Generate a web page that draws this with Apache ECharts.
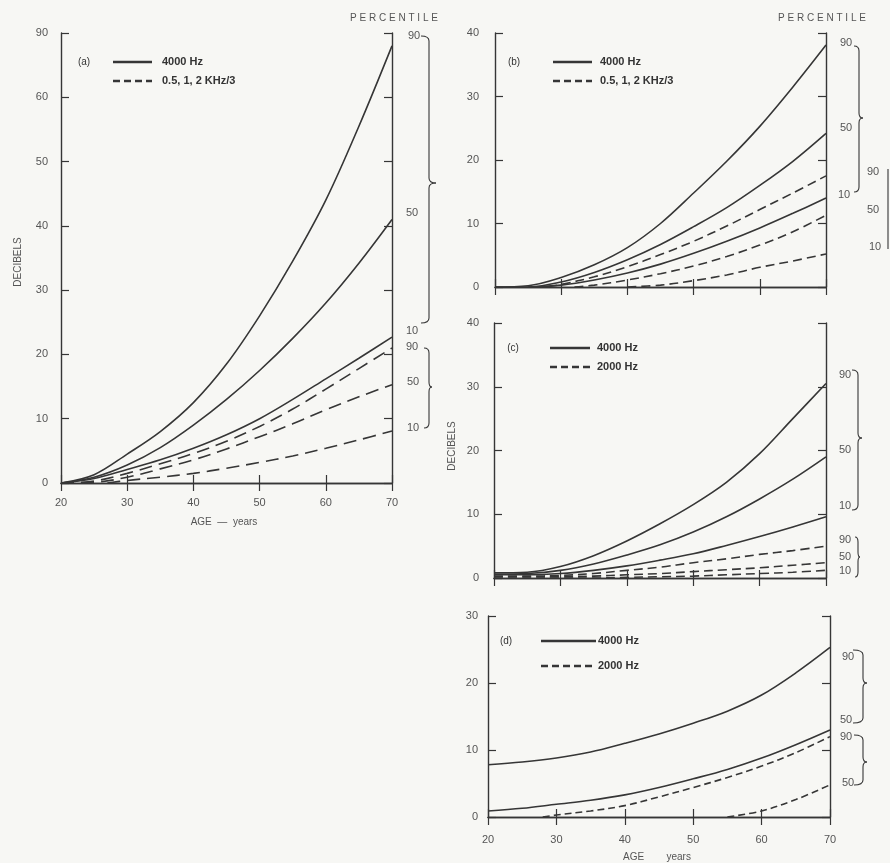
<!DOCTYPE html>
<html>
<head>
<meta charset="utf-8">
<script src="https://cdn.jsdelivr.net/npm/echarts@6/dist/echarts.min.js"></script>
<style>
html,body{margin:0;padding:0;background:#f7f7f4;}
#chart{width:890px;height:863px;}
</style>
</head>
<body>
<div id="chart"></div>
<script>
// ---------- DATA ----------
const ages = [20, 25, 30, 35, 40, 45, 50, 55, 60, 65, 70];
const xTicks = [20, 30, 40, 50, 60, 70];

// Panel (a): 4000 Hz (solid) and 0.5,1,2 KHz/3 (dashed), percentiles 90/50/10
const a_solid90 = [0, 1.3, 4.5, 8, 12.5, 18.5, 26, 34.5, 44, 55.5, 68];
const a_solid50 = [0, 0.9, 2.8, 5.5, 9, 13, 17.5, 22.5, 28, 34.2, 41];
const a_solid10 = [0, 0.7, 2.1, 3.6, 5.4, 7.5, 10, 13, 16.2, 19.4, 22.7];
const a_dash90 = [0, 0.3, 1.5, 3, 4.6, 6.5, 8.8, 11.5, 14.6, 17.8, 21];
const a_dash50 = [0, 0.1, 0.9, 2.2, 3.6, 5.3, 7.2, 9.2, 11.4, 13.4, 15.3];
const a_dash10_ages = [27, 30, 35, 40, 45, 50, 55, 60, 65, 70];
const a_dash10 = [0, 0.4, 0.9, 1.5, 2.3, 3.2, 4.2, 5.4, 6.7, 8.1];
const a_yLabels = {0:'0',10:'10',20:'20',30:'30',40:'40',50:'50',60:'60',70:'90'};

// Panel (b)
const b_solid90 = [0, 0.2, 1.5, 3.5, 6.2, 10, 14.8, 19.8, 25.3, 31.5, 38.1];
const b_solid50 = [0, 0, 0.8, 2.3, 4.3, 6.7, 9.5, 12.5, 16, 19.8, 24.2];
const b_solid10_ages = [25, 30, 35, 40, 45, 50, 55, 60, 65, 70];
const b_solid10 = [0, 0.3, 1.1, 2.2, 3.6, 5.3, 7.2, 9.3, 11.6, 14];
const b_dash90_ages = [28, 30, 35, 40, 45, 50, 55, 60, 65, 70];
const b_dash90 = [0, 0.4, 1.6, 3.2, 5.1, 7.2, 9.6, 12.2, 14.8, 17.5];
const b_dash50_ages = [32, 35, 40, 45, 50, 55, 60, 65, 70];
const b_dash50 = [0, 0.3, 1.1, 2.1, 3.3, 4.8, 6.6, 8.7, 11.3];
const b_dash10_ages = [40, 45, 50, 55, 60, 65, 70];
const b_dash10 = [0, 0.3, 1.0, 1.9, 3.1, 4.1, 5.2];

// Panel (c): 4000 Hz (solid), 2000 Hz (dashed)
const c_solid90 = [0.8, 0.9, 1.8, 3.5, 5.8, 8.5, 11.5, 15, 19.5, 25, 30.5];
const c_solid50 = [0.6, 0.7, 1.2, 2.2, 3.6, 5.2, 7.2, 9.6, 12.4, 15.5, 19];
const c_solid10 = [0.5, 0.5, 0.7, 1.2, 1.9, 2.8, 3.8, 5.1, 6.5, 8, 9.6];
const c_dash90 = [0.3, 0.3, 0.4, 0.7, 1.2, 1.7, 2.4, 3, 3.7, 4.3, 5];
const c_dash50 = [0.2, 0.2, 0.2, 0.3, 0.5, 0.7, 1.0, 1.3, 1.6, 2, 2.4];
const c_dash10 = [0, 0, 0, 0, 0.1, 0.2, 0.3, 0.5, 0.7, 0.9, 1.2];

// Panel (d): 4000 Hz (solid), 2000 Hz (dashed), percentiles 90/50
const d_solid90 = [7.8, 8.2, 8.8, 9.7, 11, 12.4, 14, 15.8, 18.2, 21.5, 25.3];
const d_solid50 = [0.9, 1.3, 1.9, 2.5, 3.3, 4.4, 5.7, 7.1, 8.8, 10.8, 13];
const d_dash90_ages = [28, 30, 35, 40, 45, 50, 55, 60, 65, 70];
const d_dash90 = [0, 0.3, 0.9, 1.7, 3, 4.4, 5.9, 7.6, 9.6, 12];
const d_dash50_ages = [55, 60, 65, 70];
const d_dash50 = [0, 0.9, 2.6, 4.8];

// ---------- STYLE ----------
const INK = '#363636';
const TXT = '#555';
const FONT = 'Liberation Sans';

function pairs(xs, ys){ return xs.map((x,i)=>[x, ys[i]]); }

const grids = [
  {left:61, right:498, top:33, bottom:380},   // a
  {left:495, right:64, top:33, bottom:576},   // b
  {left:494, right:64, top:323, bottom:285},  // c
  {left:488, right:60, top:616, bottom:46}    // d
];
const yMax = [70, 40, 40, 30];
const showX = [true, false, false, true];
const yMargins = [13, 16, 15, 10];
const xMargins = [14, 14, 14, 17];

const xAxes = [], yAxes = [];
grids.forEach((g, i) => {
  const axisLine = {show:true, lineStyle:{color:INK, width:1.4}};
  xAxes.push({
    type:'value', gridIndex:i, min:20, max:70, interval:10, position:'bottom',
    axisLine, splitLine:{show:false},
    axisTick:{show:true, inside:true, length:8, lineStyle:{color:INK, width:1.2}},
    axisLabel:{show:showX[i], color:TXT, fontFamily:FONT, fontSize:11, margin:xMargins[i]}
  });
  xAxes.push({
    type:'value', gridIndex:i, min:20, max:70, interval:10, position:'top',
    axisLine, splitLine:{show:false},
    axisTick:{show:true, inside:true, length:8, lineStyle:{color:INK, width:1.2}},
    axisLabel:{show:false}
  });
  yAxes.push({
    type:'value', gridIndex:i, min:0, max:yMax[i], interval:10, position:'left',
    axisLine, splitLine:{show:false},
    axisTick:{show:true, inside:true, length:8, lineStyle:{color:INK, width:1.2}},
    axisLabel:{color:TXT, fontFamily:FONT, fontSize:11, margin:yMargins[i],
      formatter: i === 0 ? (v => a_yLabels[v]) : (v => String(v))}
  });
  yAxes.push({
    type:'value', gridIndex:i, min:0, max:yMax[i], interval:10, position:'right',
    axisLine, splitLine:{show:false},
    axisTick:{show:true, inside:true, length:8, lineStyle:{color:INK, width:1.2}},
    axisLabel:{show:false}
  });
});

function ser(gi, data, dashed, dash){
  return {
    type:'line', xAxisIndex:gi*2, yAxisIndex:gi*2, data:data,
    smooth:0.35, showSymbol:false, symbol:'none', clip:true, silent:true,
    lineStyle:{color:INK, width:1.6, type: dashed ? dash : 'solid'}
  };
}
const dA = [13, 7], dB = [9, 5];

const series = [
  ser(0, pairs(ages, a_solid90), false),
  ser(0, pairs(ages, a_solid50), false),
  ser(0, pairs(ages, a_solid10), false),
  ser(0, pairs(ages, a_dash90), true, dA),
  ser(0, pairs(ages, a_dash50), true, dA),
  ser(0, pairs(a_dash10_ages, a_dash10), true, dA),

  ser(1, pairs(ages, b_solid90), false),
  ser(1, pairs(ages, b_solid50), false),
  ser(1, pairs(b_solid10_ages, b_solid10), false),
  ser(1, pairs(b_dash90_ages, b_dash90), true, dB),
  ser(1, pairs(b_dash50_ages, b_dash50), true, dB),
  ser(1, pairs(b_dash10_ages, b_dash10), true, dB),

  ser(2, pairs(ages, c_solid90), false),
  ser(2, pairs(ages, c_solid50), false),
  ser(2, pairs(ages, c_solid10), false),
  ser(2, pairs(ages, c_dash90), true, dB),
  ser(2, pairs(ages, c_dash50), true, dB),
  ser(2, pairs(ages, c_dash10), true, dB),

  ser(3, pairs(ages, d_solid90), false),
  ser(3, pairs(ages, d_solid50), false),
  ser(3, pairs(d_dash90_ages, d_dash90), true, [7, 4]),
  ser(3, pairs(d_dash50_ages, d_dash50), true, [7, 4])
];

// ---------- ANNOTATIONS ----------
const G = [];
function txt(t, x, y, opts){
  opts = opts || {};
  G.push({type:'text', x:x, y:y, rotation:opts.rot||0, silent:true,
    style:{text:t, fill:opts.fill||TXT, font:(opts.w||'normal')+' '+(opts.size||11)+'px '+FONT,
      align:opts.align||'center', verticalAlign:'middle'}});
}
function seg(x1,y1,x2,y2,dash,w){
  G.push({type:'line', silent:true, shape:{x1,y1,x2,y2},
    style:{stroke:INK, lineWidth:w||1.3, lineDash:dash||null}});
}
function bez(x1,y1,cx,cy,x2,y2){
  G.push({type:'bezierCurve', silent:true, shape:{x1,y1,x2,y2,cpx1:cx,cpy1:cy},
    style:{stroke:INK, lineWidth:1.1, fill:null}});
}
function brace(x0, y1, ym, y2, xv, xt){
  const r = 5;
  bez(x0, y1, xv, y1, xv, y1 + r);
  seg(xv, y1 + r, xv, ym - r, null, 1.1);
  bez(xv, ym - r, xv, ym, xt, ym);
  bez(xt, ym, xv, ym, xv, ym + r);
  seg(xv, ym + r, xv, y2 - r, null, 1.1);
  bez(xv, y2 - r, xv, y2, x0, y2);
}
function legend(lbl, lx, x1, x2, tx, y1, y2, t1, t2, dash){
  txt(lbl, lx, y1, {fill:'#333', size:10});
  seg(x1, y1, x2, y1, null, 2.4);
  seg(x1, y2, x2, y2, dash, 2.4);
  txt(t1, tx, y1, {align:'left', fill:'#333', size:11, w:'bold'});
  txt(t2, tx, y2, {align:'left', fill:'#333', size:11, w:'bold'});
}

// Panel (a)
legend('(a)', 84, 113, 152, 162, 62, 81, '4000 Hz', '0.5, 1, 2 KHz/3', [7, 4]);
txt('P E R C E N T I L E', 394, 18, {size:10});
txt('90', 414, 36); txt('50', 412, 213); txt('10', 412, 331);
txt('90', 412, 347); txt('50', 413, 382); txt('10', 413, 428);
brace(421, 36, 183, 323, 429, 436);
brace(424, 348, 387, 428, 429, 432);
txt('DECIBELS', 18, 262, {rot:Math.PI/2, size:10});
txt('AGE  \u2014  years', 224, 522, {size:10});

// Panel (b)
legend('(b)', 514, 553, 592, 600, 62, 81, '4000 Hz', '0.5, 1, 2 KHz/3', [7, 4]);
txt('P E R C E N T I L E', 822, 18, {size:10});
txt('90', 846, 43); txt('50', 846, 128); txt('10', 844, 195);
brace(854, 46, 118, 192, 859, 863);
txt('90', 873, 172); txt('50', 873, 210); txt('10', 875, 247);
seg(888, 169, 888, 249, null, 1.1);

// Panel (c)
legend('(c)', 513, 550, 590, 597, 348, 367, '4000 Hz', '2000 Hz', [7, 4]);
txt('90', 845, 375); txt('50', 845, 450); txt('10', 845, 506);
brace(852, 370, 438, 510, 858, 862);
txt('90', 845, 540); txt('50', 845, 557); txt('10', 845, 571);
brace(855, 537, 557, 577, 858, 860);
txt('DECIBELS', 452, 446, {rot:Math.PI/2, size:10});

// Panel (d)
legend('(d)', 506, 541, 596, 598, 641, 666, '4000 Hz', '2000 Hz', [7, 4]);
txt('90', 848, 657); txt('50', 846, 720); txt('90', 846, 737); txt('50', 848, 783);
brace(853, 650, 683, 723, 863, 867);
brace(854, 735, 762, 785, 863, 867);
txt('AGE        years', 657, 857, {size:10});

const chart = echarts.init(document.getElementById('chart'), null, {renderer:'canvas'});
chart.setOption({
  backgroundColor:'#f7f7f4',
  animation:false,
  grid: grids,
  xAxis: xAxes,
  yAxis: yAxes,
  series: series,
  graphic: G
});
</script>
</body>
</html>
